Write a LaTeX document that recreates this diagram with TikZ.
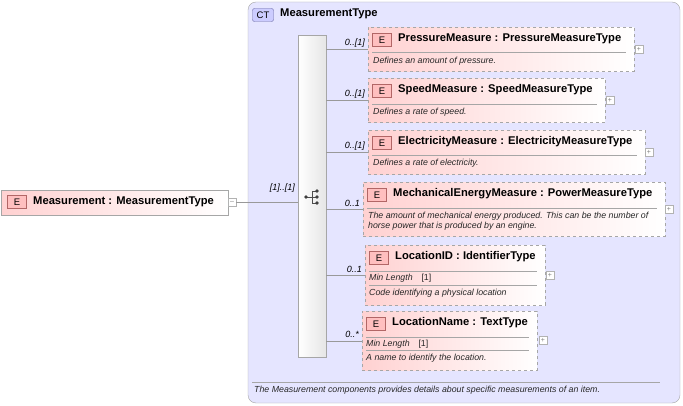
\documentclass[tikz,border=0pt]{standalone}
\usepackage{fontspec}
\setmainfont{Liberation Sans}
\begin{document}
\begin{tikzpicture}[x=1pt,y=-1pt,
  elem/.style={draw=gray!70,dashed,left color=red!18,right color=white,anchor=north west,inner sep=0pt},
  box/.style={draw=gray!70,left color=red!18,right color=white},
  badge/.style={draw=red!50!black!60,fill=red!25,font=\fontsize{9.5}{10}\selectfont,minimum width=19pt,minimum height=13pt,inner sep=0pt},
  ttl/.style={font=\bfseries\fontsize{11.2}{12}\selectfont,anchor=west,inner sep=0pt},
  dsc/.style={font=\itshape\fontsize{8.8}{10}\selectfont,anchor=west,inner sep=0pt,text=black!85},
  card/.style={font=\itshape\fontsize{9}{10}\selectfont,anchor=east,inner sep=0pt},
  pls/.style={draw=gray!60,fill=white,minimum size=8pt,inner sep=0pt,font=\fontsize{7}{7}\selectfont,text=gray},
  ln/.style={draw=gray!80,line width=0.5pt}]
\useasboundingbox (0,0) rectangle (683,406);
% CT box
\draw[draw=gray!70,fill=blue!10,rounded corners=8pt] (248,2) rectangle (680,403);
\node[draw=blue!40!black!60,fill=blue!20,rounded corners=2pt,minimum width=21pt,minimum height=13pt,inner sep=0pt,font=\fontsize{9.5}{10}\selectfont] (ct) at (263,15) {CT};
\node[ttl] (ctt) at (280,14) {MeasurementType};
\draw[gray!70] (252,382) -- (660,382);
\node[dsc] (ctd) at (254,390) {The Measurement components provides details about specific measurements of an item.};
% sequence bar
\node[draw=gray!70,left color=white,right color=gray!20,minimum width=28pt,minimum height=322pt,inner sep=0pt,anchor=north west] (seq) at (298,35) {};
\draw[black!70,line width=0.7pt] (306,197) -- (312,197) (312,191) -- (312,203) (312,191) -- (316,191) (312,197)--(316,197) (312,203)--(316,203);
\foreach \p in {(306,197),(317,191),(317,197),(317,203)} \fill[black!75] \p circle[radius=1.8];
% main element
\node[box,minimum width=227pt,minimum height=25pt,inner sep=0pt,anchor=north west] (m) at (1,190) {};
\node[badge] (mb) at (17,202) {E};
\node[ttl] (mt) at (33,202) {Measurement : MeasurementType};
\node[pls] (mp) at (232,202) {--};
\draw[ln] (mp.east) -- (seq.west|-mp.east);
\node[card] at (295,188) {[1]..[1]};
% children
\newcommand{\child}[9]{% name,x,y,w,h,title,line y,card,plus x
  \node[elem,minimum width=#4pt,minimum height=#5pt] (#1) at (#2,#3) {};
  \node[badge] (#1b) at (#2+14,#3+13) {E};
  \node[ttl] (#1t) at (#2+30,#3+12) {#6};
  \node[pls] (#1p) at (#9,#3+#5/2) {+};
  \draw[ln] (seq.east|-#1t) ++(0,#7) -- ++(#2-326,0);
  \node[card] at (#2-3,#3+#5/2-6) {#8};
}
\child{a}{368}{27}{266}{44}{PressureMeasure : PressureMeasureType}{10}{0..[1]}{639}
\draw[gray!70] (372,52) -- (626,52);
\node[dsc] at (373,61) {Defines an amount of pressure.};
\child{b}{368}{78}{237}{44}{SpeedMeasure : SpeedMeasureType}{10}{0..[1]}{610}
\draw[gray!70] (372,104) -- (597,104);
\node[dsc] at (373,112) {Defines a rate of speed.};
\child{c}{368}{130}{277}{44}{ElectricityMeasure : ElectricityMeasureType}{10}{0..[1]}{649}
\draw[gray!70] (372,155) -- (637,155);
\node[dsc] at (373,163) {Defines a rate of electricity.};
\child{d}{363}{182}{302}{54}{MechanicalEnergyMeasure : PowerMeasureType}{15}{0..1}{669}
\draw[gray!70] (367,208) -- (657,208);
\node[dsc] at (368,216) {The amount of mechanical energy produced. This can be the number of};
\node[dsc] at (368,226) {horse power that is produced by an engine.};
\child{e}{365}{245}{180}{60}{LocationID : IdentifierType}{18}{0..1}{550}
\draw[gray!70] (369,271) -- (537,271);
\node[dsc] at (369,278) {Min Length\quad\upshape [1]};
\draw[gray!70] (369,285) -- (537,285);
\node[dsc] at (369,293) {Code identifying a physical location};
\child{f}{362}{311}{175}{59}{LocationName : TextType}{18}{0..*}{543}
\draw[gray!70] (366,337) -- (529,337);
\node[dsc] at (366,344) {Min Length\quad\upshape [1]};
\draw[gray!70] (366,350) -- (529,350);
\node[dsc] at (366,358) {A name to identify the location.};
\end{tikzpicture}
\end{document}
